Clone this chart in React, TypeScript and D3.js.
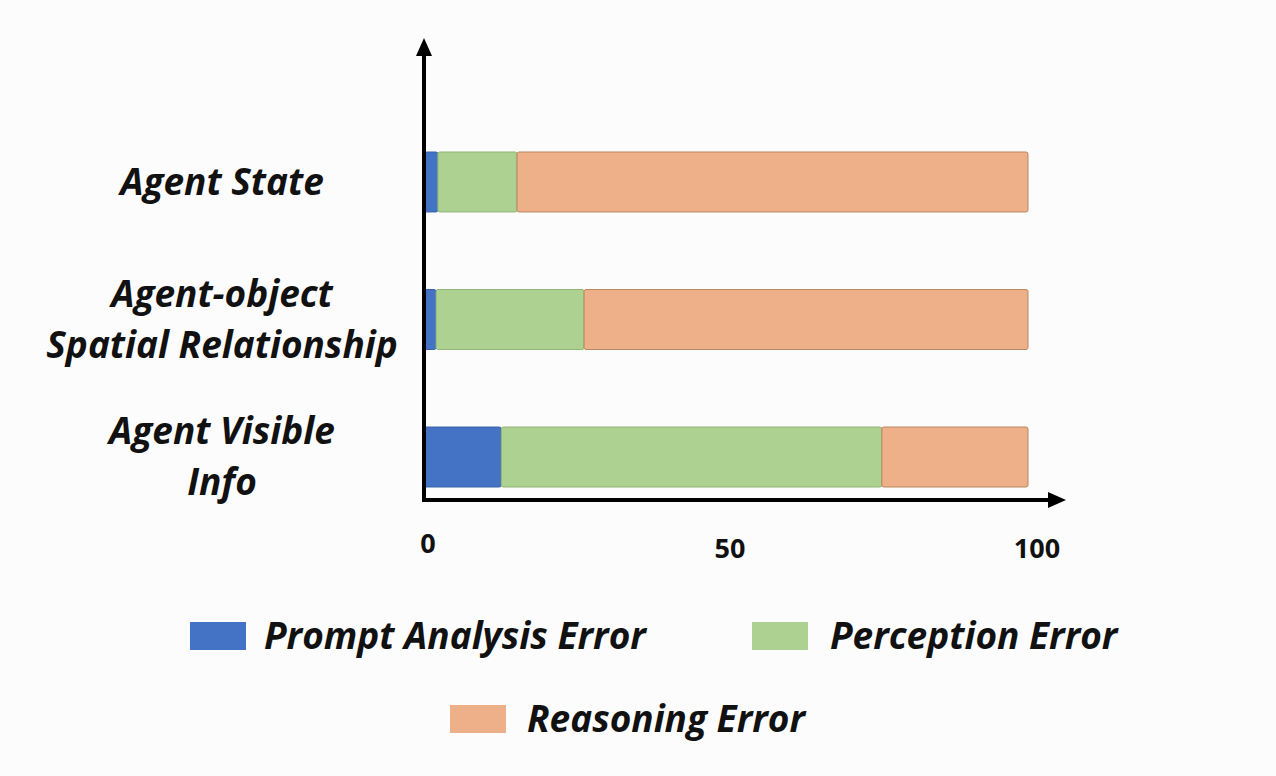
import React from "react";
import * as d3 from "d3";

const categories = ["Agent State", "Agent-object Spatial Relationship", "Agent Visible Info"];
const categoryLines = [["Agent State"], ["Agent-object", "Spatial Relationship"], ["Agent Visible", "Info"]];
const seriesNames = ["Prompt Analysis Error", "Perception Error", "Reasoning Error"];
const promptAnalysis = [2.3, 2.0, 12.8];
const perception = [13.1, 24.5, 63.0];
const reasoning = [84.6, 73.5, 24.2];
const tickValues = [0, 50, 100];
const colors = ["#4472C4", "#ADD190", "#EEB088"];
const strokes = ["#3a62a8", "#90b576", "#b98660"];

const W = 1276, H = 776;
const FONT = "'Open Sans', Lato, sans-serif";

export default function App() {
  const x = d3.scaleLinear().domain([0, 100]).range([424, 1028]);
  const y = d3.scaleBand().domain(categories).range([152, 487]).paddingInner(0.564).paddingOuter(0);
  const rows = categories.map((c, i) => ({ cat: c, a: promptAnalysis[i], b: perception[i], c: reasoning[i] }));
  const stack = d3.stack<any>().keys(["a", "b", "c"])(rows);

  const legend = [
    { name: seriesNames[0], color: colors[0], rx: 190, ry: 622, tx: 264 },
    { name: seriesNames[1], color: colors[1], rx: 752, ry: 622, tx: 830 },
    { name: seriesNames[2], color: colors[2], rx: 450, ry: 705, tx: 527 },
  ];

  return (
    <svg width={W} height={H} style={{ position: "absolute", left: 0, top: 0, display: "block" }}>
      <rect width={W} height={H} fill="#fcfcfd" />
      {stack.map((s, si) => (
        <g key={si}>
          {s.map((d, i) => (
            <rect key={i} x={x(d[0])} y={y(categories[i])} width={x(d[1]) - x(d[0])} height={y.bandwidth()}
              fill={colors[si]} stroke={strokes[si]} strokeWidth={1} rx={2} />
          ))}
        </g>
      ))}
      {/* axes */}
      <line x1={424} x2={424} y1={52} y2={502} stroke="#000" strokeWidth={4} />
      <path d="M424,38 L416,56 L432,56 Z" fill="#000" />
      <line x1={422} x2={1052} y1={500} y2={500} stroke="#000" strokeWidth={4} />
      <path d="M1066,500 L1048,492 L1048,508 Z" fill="#000" />
      {tickValues.map((t, i) => (
        <text key={t} x={x(t) + 4 + (i === 2 ? 5 : 0)} y={i === 0 ? 553 : 558} textAnchor="middle" fontFamily={FONT}
          fontWeight={700} fontSize={27} fill="#111">{t}</text>
      ))}
      {categoryLines.map((lines, i) => {
        const cy = y(categories[i])! + y.bandwidth() / 2;
        const lh = 51;
        const start = cy - ((lines.length - 1) * lh) / 2;
        return lines.map((ln, j) => (
          <text key={i + "-" + j} x={222} y={start + j * lh} dy="0.35em" textAnchor="middle" fontFamily={FONT}
            fontWeight={700} fontStyle="italic" fontSize={37} fill="#111">{ln}</text>
        ));
      })}
      {legend.map((l, i) => (
        <g key={i}>
          <rect x={l.rx} y={l.ry} width={56} height={28} fill={l.color} />
          <text x={l.tx} y={l.ry + 14} dy="0.35em" fontFamily={FONT} fontWeight={700} fontStyle="italic"
            fontSize={37} fill="#111">{l.name}</text>
        </g>
      ))}
    </svg>
  );
}
